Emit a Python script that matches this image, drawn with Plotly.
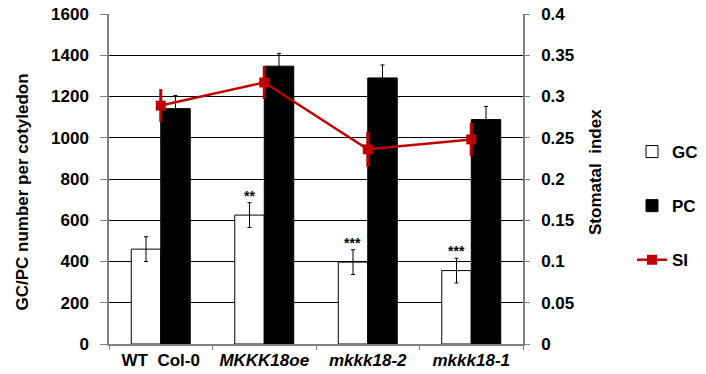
import plotly.graph_objects as go

categories = ["WT\u00a0 Col-0", "<i>MKKK18oe</i>", "<i>mkkk18-2</i>", "<i>mkkk18-1</i>"]
gc_values = [460, 625, 397, 356]
gc_err = [60, 60, 60, 60]
pc_values = [1141, 1347, 1290, 1088]
pc_err = [64, 62, 63, 64]
si_values = [0.289, 0.317, 0.236, 0.248]
si_err = [0.02, 0.02, 0.021, 0.02]
stars = ["", "**", "***", "***"]
left_ticks = [0, 200, 400, 600, 800, 1000, 1200, 1400, 1600]
right_ticks = [0, 0.05, 0.1, 0.15, 0.2, 0.25, 0.3, 0.35, 0.4]
right_labels = ["0", "0.05", "0.1", "0.15", "0.2", "0.25", "0.3", "0.35", "0.4"]

FONT = "Liberation Sans, Arial, Helvetica, sans-serif"
RED = "#c00000"
W, H = 706, 374
# plot area in window pixels: x 109..523, y 14..344
L, T = 109, 14
R = W - 523
B = H - 344
PW = W - L - R
PH = H - T - B


def px(xw):
    return (xw - L) / PW


def py(yw):
    return (H - B - yw) / PH


fig = go.Figure()
fig.add_trace(go.Bar(
    x=categories, y=gc_values, name="<b>GC</b>", legendgroup="gc",
    marker=dict(color="white", line=dict(color="black", width=1)),
    error_y=dict(type="data", array=gc_err, color="black", thickness=1, width=2),
))
fig.add_trace(go.Bar(
    x=categories, y=pc_values, name="<b>PC</b>", legendgroup="pc",
    marker=dict(color="black", line=dict(color="black", width=1)),
    error_y=dict(type="data", array=pc_err, color="black", thickness=1, width=2),
))
fig.add_trace(go.Scatter(
    x=categories, y=si_values, name="<b>SI</b>", legendgroup="si", yaxis="y2",
    mode="lines+markers",
    line=dict(color=RED, width=2.5),
    marker=dict(symbol="square", size=10, color=RED),
    error_y=dict(type="data", array=si_err, color=RED, thickness=3, width=0),
))

# significance stars above GC bars
for i, s in enumerate(stars):
    if s:
        fig.add_annotation(
            x=i - 0.1435, y=gc_values[i] + gc_err[i] - 14, xref="x", yref="y",
            text="<b>" + s + "</b>", showarrow=False, yanchor="bottom",
            font=dict(size=14, color="black", family=FONT),
        )

fig.add_annotation(
    x=px(22), xref="paper", y=py(192.5), yref="paper",
    xanchor="center", yanchor="middle",
    text="<b>GC/PC number per cotyledon</b>",
    textangle=-90, showarrow=False, font=dict(size=17, color="black", family=FONT),
)
fig.add_annotation(
    x=px(595), xref="paper", y=py(172), yref="paper",
    xanchor="center", yanchor="middle",
    text="<b>Stomatal\u00a0 index</b>",
    textangle=-90, showarrow=False, font=dict(size=17, color="black", family=FONT),
)

fig.update_layout(
    width=W, height=H,
    margin=dict(l=L, r=R, t=T, b=B, autoexpand=False),
    paper_bgcolor="white", plot_bgcolor="white",
    barmode="group", bargap=0.43, bargroupgap=0,
    font=dict(family=FONT, size=17, color="black"),
    showlegend=True,
    legend=dict(x=px(632), xanchor="left", y=py(134), yanchor="top",
                tracegroupgap=29, font=dict(size=17, family=FONT),
                bgcolor="rgba(0,0,0,0)"),
    xaxis=dict(
        showline=True, linecolor="#808080", linewidth=1.5,
        ticks="outside", tickson="boundaries", ticklen=4, tickcolor="#808080",
        tickfont=dict(size=17, family=FONT, color="black"),
        showgrid=False, automargin=False,
    ),
    yaxis=dict(
        range=[0, 1600], tickvals=left_ticks,
        ticktext=["<b>%d</b>" % v for v in left_ticks],
        showline=True, linecolor="#808080", linewidth=1.5,
        ticks="outside", ticklen=7, tickcolor="#808080",
        showgrid=True, gridcolor="black", gridwidth=1,
        zeroline=False, automargin=False, ticklabeloverflow="allow",
        tickfont=dict(size=17, family=FONT, color="black"),
        ticklabelstandoff=8,
    ),
    yaxis2=dict(
        overlaying="y", side="right", range=[0, 0.4],
        tickvals=right_ticks, ticktext=["<b>%s</b>" % t for t in right_labels],
        showline=True, linecolor="#808080", linewidth=1.5,
        ticks="outside", ticklen=5, tickcolor="#808080",
        showgrid=False, zeroline=False, automargin=False, ticklabeloverflow="allow",
        tickfont=dict(size=17, family=FONT, color="black"),
        ticklabelstandoff=8,
    ),
)
fig.update_xaxes(tickvals=categories, ticktext=["<b>%s</b>" % c for c in categories])

# remove the default page margin so the figure fills the window exactly
fig.write_html("out.html", config={"displayModeBar": False},
               post_script="document.body.style.margin='0';")
